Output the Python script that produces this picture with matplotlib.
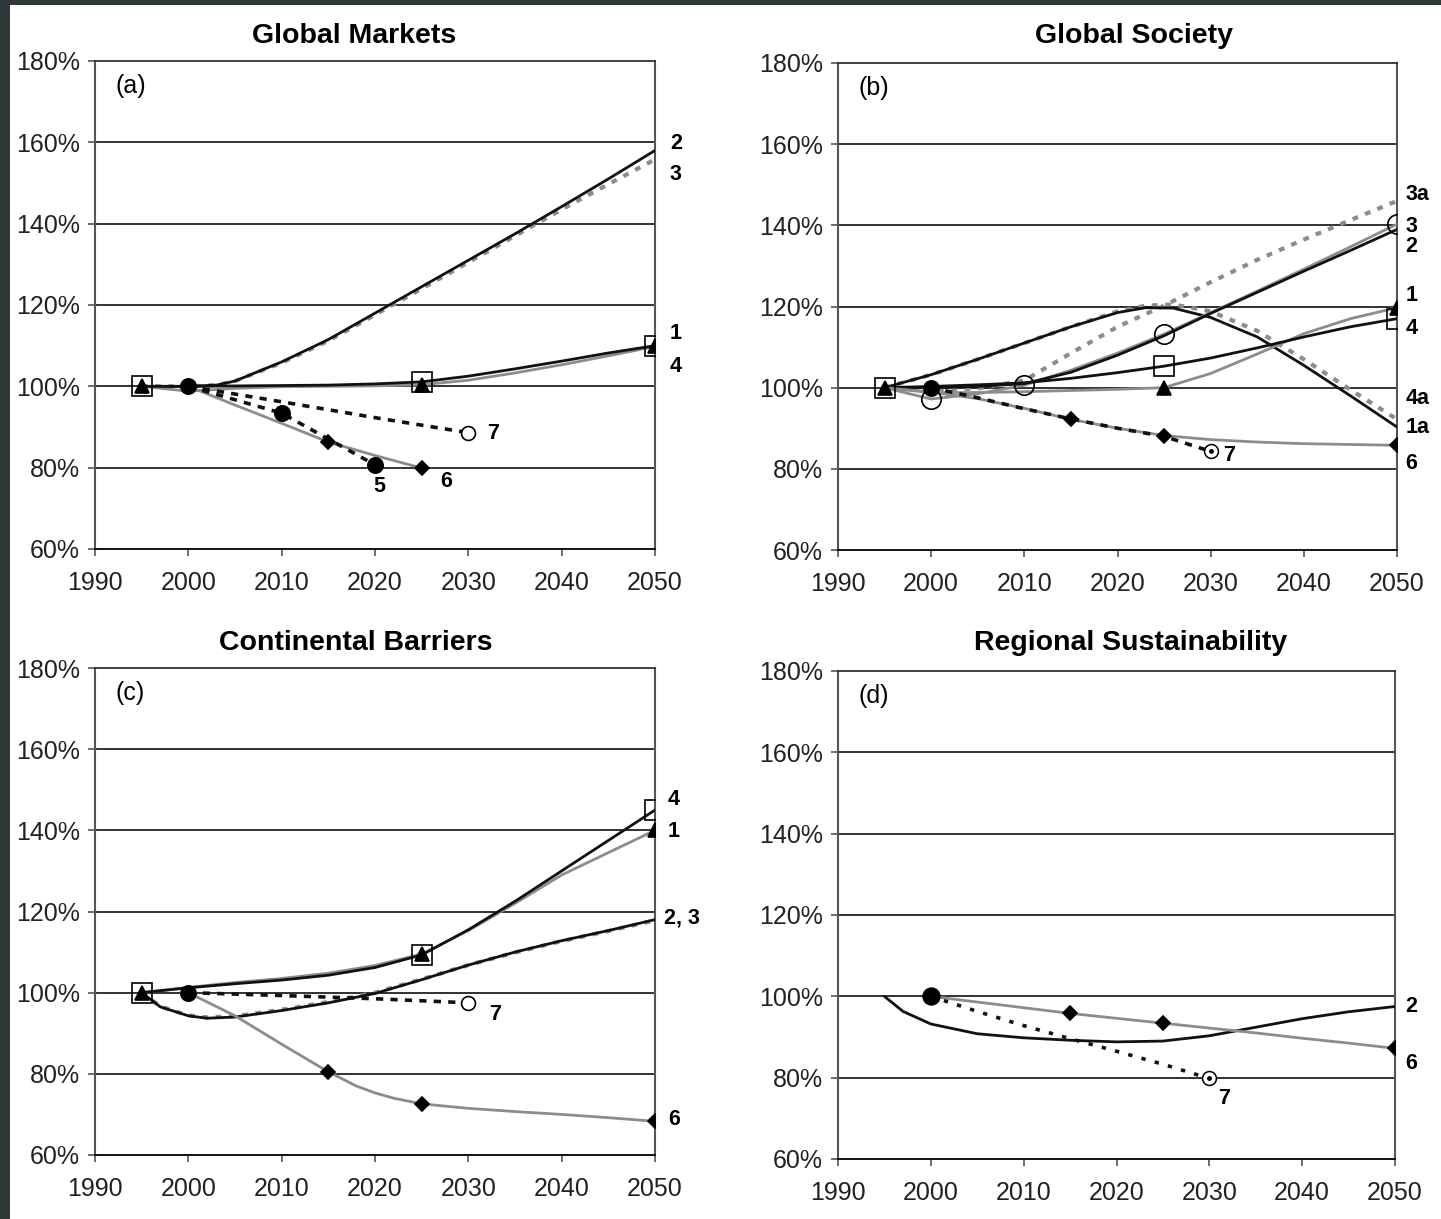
import matplotlib
matplotlib.use("Agg")
import matplotlib.pyplot as plt
from matplotlib.patches import Rectangle

plt.rcParams["font.family"] = ["Liberation Sans", "DejaVu Sans"]

BLACK = "#111111"
GRAY = "#8c8c8c"

Y_TICKS = [60, 80, 100, 120, 140, 160, 180]
X_TICKS = [1990, 2000, 2010, 2020, 2030, 2040, 2050]
TITLES = ["Global Markets", "Global Society", "Continental Barriers", "Regional Sustainability"]
PANEL_TAGS = ["(a)", "(b)", "(c)", "(d)"]

# ---- (a) Global Markets ----
a2_x = [1995, 2000, 2003, 2005, 2010, 2015, 2020, 2025, 2030, 2035, 2040, 2045, 2050]
a2_y = [100, 100, 100.3, 101.3, 106, 111.5, 118, 124.5, 131, 137.5, 144.2, 151, 158]
a3_x = [1995, 2000, 2003, 2005, 2010, 2015, 2020, 2025, 2030, 2035, 2040, 2045, 2050]
a3_y = [100, 100, 100.3, 101.3, 105.8, 111.2, 117.6, 124, 130.5, 137, 143.5, 149.7, 155.8]
a1_x = [1995, 2000, 2005, 2010, 2015, 2020, 2025, 2030, 2035, 2040, 2045, 2050]
a1_y = [100, 98.8, 99.5, 99.9, 100, 100.1, 100.4, 101.5, 103.3, 105.3, 107.5, 109.8]
a4_x = [1995, 2000, 2005, 2010, 2015, 2020, 2025, 2030, 2035, 2040, 2045, 2050]
a4_y = [100, 100, 100.1, 100.2, 100.3, 100.6, 101.1, 102.5, 104.3, 106.2, 108.2, 110]
a5_x = [2000, 2010, 2020]
a5_y = [100, 93.4, 80.7]
a6_x = [2000, 2005, 2010, 2015, 2020, 2025]
a6_y = [100, 95.4, 90.9, 86.3, 83, 79.9]
a7_x = [2000, 2010, 2020, 2030]
a7_y = [100, 96.2, 92.3, 88.6]

# ---- (b) Global Society ----
b1a_x = [1995, 2000, 2005, 2010, 2015, 2020, 2023, 2026, 2030, 2035, 2040, 2045, 2050]
b1a_y = [100, 103.2, 107, 111, 115, 118.5, 119.7, 119.6, 117.3, 112.5, 105.5, 98, 90.3]
b4a_x = [1995, 2000, 2005, 2010, 2015, 2020, 2023, 2026, 2030, 2035, 2040, 2045, 2050]
b4a_y = [100, 103.2, 107, 111, 115, 118.8, 120.2, 120.5, 118.8, 114, 107, 99.5, 92.2]
b3a_x = [1995, 2000, 2005, 2010, 2015, 2020, 2025, 2030, 2035, 2040, 2045, 2050]
b3a_y = [100, 99.5, 99.8, 101.8, 108.5, 115, 120.2, 126, 131.5, 136.5, 141.3, 146]
b3_x = [1995, 2000, 2005, 2010, 2015, 2020, 2025, 2030, 2035, 2040, 2045, 2050]
b3_y = [100, 97.2, 98.5, 100.6, 104.3, 108.5, 113.2, 118.5, 123.8, 129.2, 134.7, 140.3]
b2_x = [1995, 2000, 2005, 2010, 2015, 2020, 2025, 2030, 2035, 2040, 2045, 2050]
b2_y = [100, 100, 100.3, 101, 103.8, 108, 112.8, 118.3, 123.5, 128.7, 133.8, 139]
b1_x = [1995, 2000, 2005, 2010, 2015, 2020, 2025, 2030, 2035, 2040, 2045, 2050]
b1_y = [100, 98.8, 98.8, 99, 99.3, 99.6, 100, 103.5, 108.3, 113.3, 117, 119.7]
b4_x = [1995, 2000, 2005, 2010, 2015, 2020, 2025, 2030, 2035, 2040, 2045, 2050]
b4_y = [100, 100.3, 100.7, 101.2, 102.3, 103.7, 105.3, 107.3, 109.8, 112.5, 115, 117]
b6_x = [1995, 2000, 2005, 2010, 2015, 2020, 2025, 2030, 2035, 2040, 2045, 2050]
b6_y = [100, 98.9, 97.3, 94.9, 92.2, 90, 88.2, 87.2, 86.6, 86.2, 86, 85.8]
b7_x = [2000, 2005, 2010, 2015, 2020, 2025, 2030]
b7_y = [100, 97.5, 94.8, 92.3, 90, 88, 84.3]

# ---- (c) Continental Barriers ----
c4_x = [1995, 2000, 2005, 2010, 2015, 2020, 2025, 2030, 2035, 2040, 2045, 2050]
c4_y = [100, 101.2, 102.2, 103.1, 104.3, 106.2, 109.3, 115.5, 122.5, 130, 137.5, 145]
c1_x = [1995, 2000, 2005, 2010, 2015, 2020, 2025, 2030, 2035, 2040, 2045, 2050]
c1_y = [100, 101.3, 102.5, 103.5, 104.8, 106.7, 109.5, 115.3, 122, 129, 134.5, 140]
c2_x = [1995, 1997, 2000, 2002, 2005, 2010, 2015, 2020, 2025, 2030, 2035, 2040, 2045, 2050]
c2_y = [100, 96.5, 94.3, 93.7, 94, 95.6, 97.5, 99.8, 103.2, 106.8, 110, 112.8, 115.3, 118]
c3_x = [1995, 1997, 2000, 2002, 2005, 2010, 2015, 2020, 2025, 2030, 2035, 2040, 2045, 2050]
c3_y = [100, 96.6, 94.4, 93.9, 94.2, 95.8, 97.7, 100, 103.3, 106.8, 109.9, 112.7, 115.2, 117.8]
c7_x = [2000, 2010, 2020, 2030]
c7_y = [100, 99.3, 98.5, 97.5]
c6_x = [2000, 2005, 2010, 2015, 2018, 2020, 2022, 2025, 2030, 2035, 2040, 2045, 2050]
c6_y = [100, 94.3, 87.3, 80.5, 77, 75.3, 74, 72.6, 71.5, 70.7, 70, 69.2, 68.3]

# ---- (d) Regional Sustainability ----
d2_x = [1995, 1997, 2000, 2005, 2010, 2015, 2020, 2025, 2030, 2035, 2040, 2045, 2050]
d2_y = [100, 96.3, 93.2, 90.8, 89.8, 89.2, 88.8, 89, 90.3, 92.4, 94.5, 96.2, 97.5]
d6_x = [2000, 2005, 2010, 2015, 2020, 2025, 2030, 2035, 2040, 2045, 2050]
d6_y = [100, 98.6, 97.2, 95.8, 94.6, 93.4, 92.2, 91, 89.7, 88.5, 87.2]
d7_x = [2000, 2005, 2010, 2015, 2020, 2025, 2030]
d7_y = [100, 96.3, 92.8, 89.6, 86.5, 83.3, 79.8]


def line(ax, xs, ys, color, lw=2.0, dashes=None, z=3):
    ln, = ax.plot(xs, ys, color=color, lw=lw, zorder=z, solid_capstyle="round")
    if dashes:
        ln.set_dashes(dashes)
    return ln


def marks(ax, xs, ys, years, marker, ms=10, fill="black", z=6):
    px = [xs[xs.index(y)] for y in years]
    py = [ys[xs.index(y)] for y in years]
    ax.plot(px, py, ls="none", marker=marker, ms=ms, mfc=fill, mec="black",
            mew=1.2, zorder=z)


def dot_circle(ax, x, y):
    ax.plot([x], [y], ls="none", marker="o", ms=10, mfc="white", mec="black", mew=1.1, zorder=7)
    ax.plot([x], [y], ls="none", marker="o", ms=2.5, mfc="black", mec="black", zorder=8)


def label(ax, x, y, t):
    ax.text(x, y, t, fontsize=15.5, fontweight="bold", ha="left", va="center",
            clip_on=False, zorder=9)


def style(ax, i):
    ax.set_xlim(1990, 2050)
    ax.set_ylim(60, 180)
    ax.set_xticks(X_TICKS)
    ax.set_yticks(Y_TICKS)
    ax.set_yticklabels([f"{v}%" for v in Y_TICKS])
    for v in Y_TICKS[1:-1]:
        ax.axhline(v, color="#222222", lw=1.3, zorder=1)
    ax.spines["top"].set_color("#333333")
    ax.spines["top"].set_linewidth(1.3)
    ax.spines["bottom"].set_color("#111111")
    ax.spines["bottom"].set_linewidth(1.4)
    for s in ("left", "right"):
        ax.spines[s].set_color("#555555")
        ax.spines[s].set_linewidth(1.5)
    ax.tick_params(direction="out", length=5, width=1.2, color="#555555",
                   labelsize=18, labelcolor="#222222")
    ax.tick_params(axis="y", pad=6)
    ax.tick_params(axis="x", pad=11)
    ax.text(1992.2, 173.9, PANEL_TAGS[i], fontsize=18, ha="left", va="center")


W, H = 1441, 1219
fig = plt.figure(figsize=(W / 100, H / 100), dpi=100)
fig.patch.set_facecolor("white")
fig.patches.append(Rectangle((0, 1 - 5 / H), 1, 5 / H, transform=fig.transFigure,
                             facecolor="#2e3838", edgecolor="none"))
fig.patches.append(Rectangle((0, 0), 10 / W, 1, transform=fig.transFigure,
                             facecolor="#2e3838", edgecolor="none"))

axa = fig.add_axes([95 / W, 1 - 549 / H, 560 / W, 488 / H])
axb = fig.add_axes([838 / W, 1 - 550 / H, 559 / W, 487 / H])
axc = fig.add_axes([95 / W, 1 - 1155 / H, 560 / W, 487 / H])
axd = fig.add_axes([838 / W, 1 - 1159 / H, 557 / W, 488 / H])
for i, ax in enumerate([axa, axb, axc, axd]):
    style(ax, i)

# panel titles sit a little off the axes centre in the original
for t, (tx, ty) in zip(TITLES, [(354, 36), (1134, 36), (356, 643), (1131, 643)]):
    fig.text(tx / W, 1 - ty / H, t, fontsize=20.5, fontweight="bold",
             ha="center", va="center")

GD = (1.4, 1.8)   # gray dashed pattern
KD = (2.0, 2.0)   # black dashed pattern

# (a)
ax = axa
line(ax, a3_x, a3_y, GRAY, lw=3.0, dashes=GD)
line(ax, a2_x, a2_y, BLACK, lw=2.0)
line(ax, a1_x, a1_y, GRAY, lw=2.0)
line(ax, a4_x, a4_y, BLACK, lw=2.0)
line(ax, a6_x, a6_y, GRAY, lw=2.0)
line(ax, a5_x, a5_y, BLACK, lw=2.6, dashes=KD)
line(ax, a7_x, a7_y, BLACK, lw=2.6, dashes=KD)
marks(ax, a1_x, a1_y, [1995, 2025, 2050], "^", ms=10)
marks(ax, a4_x, a4_y, [1995, 2025, 2050], "s", ms=14, fill="none")
marks(ax, a5_x, a5_y, [2000, 2010, 2020], "o", ms=11)
marks(ax, a6_x, a6_y, [2015, 2025], "D", ms=7.5)
marks(ax, a7_x, a7_y, [2030], "o", ms=10, fill="white")
label(ax, 2051.6, 159.8, "2")
label(ax, 2051.6, 152.2, "3")
label(ax, 2051.6, 113.1, "1")
label(ax, 2051.6, 105.0, "4")
label(ax, 2032.0, 88.3, "7")
label(ax, 2019.8, 75.3, "5")
label(ax, 2027.0, 76.7, "6")

# (b)
ax = axb
line(ax, b4a_x, b4a_y, GRAY, lw=3.0, dashes=GD)
line(ax, b3a_x, b3a_y, GRAY, lw=3.0, dashes=GD)
line(ax, b1a_x, b1a_y, BLACK, lw=2.0)
line(ax, b3_x, b3_y, GRAY, lw=2.0)
line(ax, b2_x, b2_y, BLACK, lw=2.0)
line(ax, b1_x, b1_y, GRAY, lw=2.0)
line(ax, b4_x, b4_y, BLACK, lw=2.0)
line(ax, b6_x, b6_y, GRAY, lw=2.0)
line(ax, b7_x, b7_y, BLACK, lw=2.6, dashes=KD)
marks(ax, b1_x, b1_y, [1995, 2025, 2050], "^", ms=10)
marks(ax, b4_x, b4_y, [1995, 2025, 2050], "s", ms=14, fill="none")
marks(ax, b3_x, b3_y, [2000, 2010, 2025, 2050], "o", ms=14, fill="none")
marks(ax, b6_x, b6_y, [2015, 2025, 2050], "D", ms=7.5)
marks(ax, b7_x, b7_y, [2000], "o", ms=11)
dot_circle(ax, b7_x[-1], b7_y[-1])
label(ax, 2050.9, 147.5, "3a")
label(ax, 2050.9, 139.6, "3")
label(ax, 2050.9, 134.7, "2")
label(ax, 2050.9, 122.6, "1")
label(ax, 2050.9, 114.7, "4")
label(ax, 2050.9, 97.4, "4a")
label(ax, 2050.9, 90.1, "1a")
label(ax, 2050.9, 81.4, "6")
label(ax, 2031.3, 83.2, "7")

# (c)
ax = axc
line(ax, c3_x, c3_y, GRAY, lw=3.0, dashes=GD)
line(ax, c2_x, c2_y, BLACK, lw=2.0)
line(ax, c1_x, c1_y, GRAY, lw=2.0)
line(ax, c4_x, c4_y, BLACK, lw=2.0)
line(ax, c6_x, c6_y, GRAY, lw=2.0)
line(ax, c7_x, c7_y, BLACK, lw=2.6, dashes=KD)
marks(ax, c1_x, c1_y, [1995, 2025, 2050], "^", ms=10)
marks(ax, c4_x, c4_y, [1995, 2025, 2050], "s", ms=14, fill="none")
marks(ax, c6_x, c6_y, [2015, 2025, 2050], "D", ms=7.5)
marks(ax, c7_x, c7_y, [2000], "o", ms=11)
marks(ax, c7_x, c7_y, [2030], "o", ms=10, fill="white")
label(ax, 2051.4, 147.5, "4")
label(ax, 2051.4, 139.6, "1")
label(ax, 2051.0, 118.4, "2, 3")
label(ax, 2032.2, 94.5, "7")
label(ax, 2051.4, 68.7, "6")

# (d)
ax = axd
line(ax, d2_x, d2_y, BLACK, lw=2.0)
line(ax, d6_x, d6_y, GRAY, lw=2.0)
line(ax, d7_x, d7_y, BLACK, lw=2.6, dashes=(1.2, 2.6))
marks(ax, d6_x, d6_y, [2015, 2025, 2050], "D", ms=7.5)
marks(ax, d7_x, d7_y, [2000], "o", ms=12)
dot_circle(ax, d7_x[-1], d7_y[-1])
label(ax, 2051.1, 97.6, "2")
label(ax, 2051.1, 83.6, "6")
label(ax, 2031.0, 75.0, "7")

fig.savefig("out.png", dpi=100, facecolor="white")
